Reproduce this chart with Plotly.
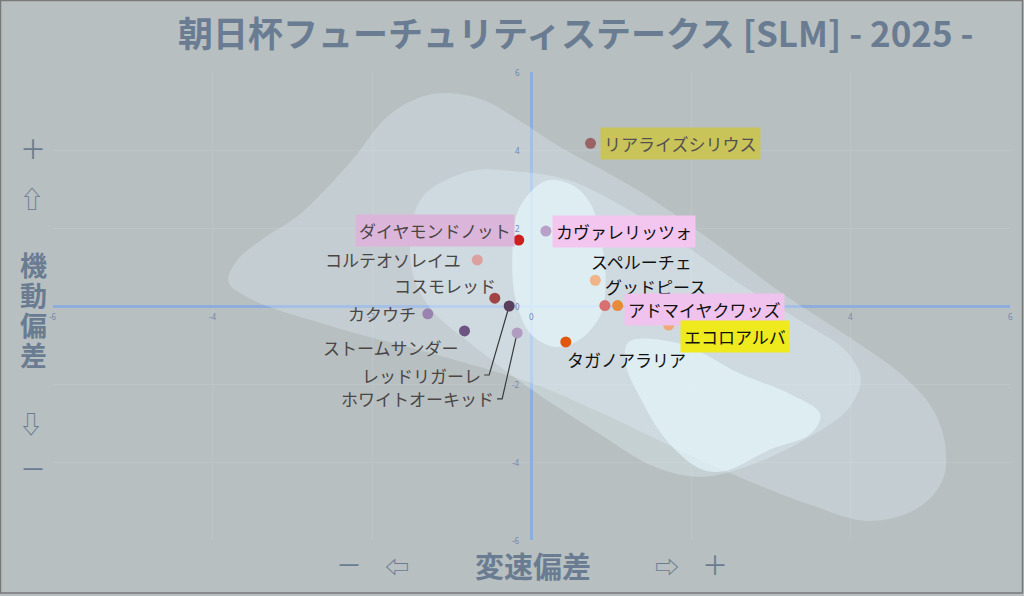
import plotly.graph_objects as go

# ---------------- data ----------------
horses = ["リアライズシリウス", "ダイヤモンドノット", "カヴァレリッツォ", "コルテオソレイユ",
          "グッドピース", "スペルーチェ", "コスモレッド", "アドマイヤクワッズ", "カクウチ",
          "エコロアルバ", "ストームサンダー", "タガノアラリア", "レッドリガーレ", "ホワイトオーキッド"]
speed_dev = [0.74, -0.16, 0.18, -0.68, 0.80, 0.92, -0.46, 1.08, -1.30, 1.72, -0.84, 0.43, -0.28, -0.18]
mobility_dev = [4.17, 1.69, 1.92, 1.18, 0.66, 0.01, 0.20, 0.01, -0.20, -0.49, -0.64, -0.92, 0.00, -0.69]
point_colors = ["#9a6464", "#cc2020", "#b8a0c8", "#dca0a0", "#f0b488", "#d87070", "#a04444",
                "#e88a3a", "#9a82b0", "#f0a878", "#6e5480", "#e05810", "#5a3e5e", "#b09cc0"]

tick_values = [-6, -4, -2, 0, 2, 4, 6]

# density contour outlines (data units)
outer_x = [-1.23, -0.64, -0.14, 0.36, 0.87, 1.45, 2.28, 3.12, 3.96, 4.63, 5.03, 5.19, 5.15, 4.82,
           4.21, 3.54, 2.28, 0.87, 0.03, -1.23, -2.48, -3.52, -3.80, -3.70, -3.37, -2.90, -2.27, -1.77]
outer_y = [5.44, 5.31, 4.74, 4.08, 3.51, 2.82, 1.64, 0.36, -0.77, -1.74, -2.64, -3.59, -4.49, -5.21,
           -5.51, -5.13, -4.10, -2.74, -2.00, -1.23, -0.54, 0.18, 0.62, 1.15, 1.72, 2.36, 3.69, 4.92]
middle_x = [-0.76, -0.14, 0.49, 1.24, 1.99, 2.62, 3.37, 3.94, 4.13, 3.97, 3.44, 2.68, 2.12, 1.55,
            0.80, -0.01, -0.76, -1.24, -1.47, -1.52, -1.37]
middle_y = [3.46, 3.44, 3.21, 2.44, 1.46, 0.56, -0.38, -1.15, -1.87, -2.64, -3.41, -4.13, -4.38, -4.13,
            -3.21, -2.13, -0.97, -0.13, 0.69, 1.72, 2.79]
inner_a_x = [0.18, 0.51, 0.74, 0.87, 0.93, 0.87, 0.61, 0.30, -0.01, -0.20, -0.24, -0.16]
inner_a_y = [3.21, 3.10, 2.62, 1.72, 0.69, -0.21, -0.85, -1.05, -0.72, 0.18, 1.33, 2.49]
inner_b_x = [1.22, 1.87, 2.62, 3.25, 3.62, 3.50, 3.00, 2.43, 2.12, 1.68, 1.37, 1.18]
inner_b_y = [-0.92, -0.97, -1.74, -2.26, -2.77, -3.28, -3.67, -4.23, -4.18, -3.41, -2.38, -1.49]

# ---------------- label styling (pixel offsets / colours) ----------------
label_style = {
    "リアライズシリウス": dict(dx=90, dy=0, bg="#c8c45a", fc="#555050"),
    "ダイヤモンドノット": dict(dx=-84, dy=10, bg="#dcb6da", fc="#4a4646"),
    "カヴァレリッツォ": dict(dx=78, dy=0, bg="#f3c6f0", fc="#111111"),
    "コルテオソレイユ": dict(dx=-84, dy=0, bg=None, fc="#4a4646"),
    "グッドピース": dict(dx=60, dy=-6, bg=None, fc="#111111"),
    "スペルーチェ": dict(dx=37, dy=44, bg=None, fc="#111111"),
    "コスモレッド": dict(dx=-50, dy=13, bg=None, fc="#4a4646"),
    "アドマイヤクワッズ": dict(dx=87, dy=-4, bg="#f0c2ee", fc="#111111"),
    "カクウチ": dict(dx=-46, dy=0, bg=None, fc="#4a4646"),
    "エコロアルバ": dict(dx=66, dy=-11, bg="#eeea1e", fc="#111111"),
    "ストームサンダー": dict(dx=-74, dy=-17, bg=None, fc="#4a4646"),
    "タガノアラリア": dict(dx=61, dy=-18, bg=None, fc="#111111"),
}
# leader-line labels: elbow offset and text right-end offset in pixels (x right, y down)
leader_style = {
    "レッドリガーレ": dict(ex=-20, ey=69, tx=-25, fc="#4a4646"),
    "ホワイトオーキッド": dict(ex=-15, ey=66, tx=-20, fc="#4a4646"),
}

BG = "#b8bfc1"
AXC = "#6a7c92"
FONT = "Noto Sans CJK JP"
L, R, T, B = 53, 1010, 72, 540
XPX = (R - L) / 12.0   # pixels per x unit
YPX = (B - T) / 12.0   # pixels per y unit

fig = go.Figure()

def blob(xs, ys, color):
    fig.add_trace(go.Scatter(x=xs + xs[:1], y=ys + ys[:1], mode="lines", fill="toself",
                             fillcolor=color, line=dict(width=0, shape="spline", smoothing=1.0),
                             hoverinfo="skip", showlegend=False))

blob(outer_x, outer_y, "rgba(230,248,255,0.26)")
blob(middle_x, middle_y, "rgba(230,248,255,0.30)")
blob(inner_a_x, inner_a_y, "rgba(232,250,255,0.60)")
blob(inner_b_x, inner_b_y, "rgba(232,250,255,0.60)")

ann = []
# tick labels at the crossing axes (drawn first, beneath the horse labels)
for t in tick_values:
    ann.append(dict(x=-0.12, y=t, xref="x", yref="y", text=str(t), showarrow=False,
                    xanchor="right", yanchor="middle",
                    font=dict(family="Noto Sans", size=8, color="#7088b0")))
    ann.append(dict(x=t, y=-0.28, xref="x", yref="y", text=str(t), showarrow=False,
                    xanchor="center", yanchor="middle",
                    font=dict(family="Noto Sans", size=8, color="#7088b0")))

for name, xv, yv in zip(horses, speed_dev, mobility_dev):
    if name in leader_style:
        s = leader_style[name]
        ex, ey = xv + s["ex"] / XPX, yv - s["ey"] / YPX
        tx = xv + s["tx"] / XPX
        fig.add_trace(go.Scatter(x=[xv, ex, tx], y=[yv, ey, ey], mode="lines",
                                 line=dict(color="#3a3a3a", width=1.2),
                                 hoverinfo="skip", showlegend=False))
        ann.append(dict(x=tx, y=ey, xref="x", yref="y", text=name, showarrow=False,
                        xanchor="right", yanchor="middle", xshift=-1,
                        font=dict(family=FONT, size=17, color=s["fc"])))
    elif name in label_style:
        s = label_style[name]
        a = dict(x=xv, y=yv, xref="x", yref="y", text=name, showarrow=False,
                 xshift=s["dx"], yshift=s["dy"], font=dict(family=FONT, size=17, color=s["fc"]),
                 borderpad=3)
        if s["bg"]:
            a["bgcolor"] = s["bg"]
        ann.append(a)

fig.add_trace(go.Scatter(x=speed_dev, y=mobility_dev, mode="markers",
                         marker=dict(size=11, color=point_colors, line=dict(width=0)),
                         text=horses, hoverinfo="text", showlegend=False))

def pcap(text, px, py, size, bold=False):
    ann.append(dict(x=(px - L) / (R - L), y=(B - py) / (B - T), xref="paper", yref="paper",
                    xanchor="center", yanchor="middle",
                    text=("<b>%s</b>" % text) if bold else text, showarrow=False,
                    font=dict(family=FONT, size=size, color=AXC)))

pcap("＋", 33, 147, 26)
pcap("⇧", 32, 197, 24)
for ch, py in zip("機動偏差", [264, 294, 324, 354]):
    pcap(ch, 33, py, 27, bold=True)
pcap("⇩", 31, 422, 24)
pcap("－", 33, 467, 26)

pcap("－", 349, 563, 26)
pcap("⇦", 397, 565, 24)
pcap("変速偏差", 533, 565, 29, bold=True)
pcap("⇨", 667, 565, 24)
pcap("＋", 715, 563, 26)

fig.update_layout(
    width=1024, height=596,
    margin=dict(l=L, r=1024 - R, t=T, b=596 - B),
    paper_bgcolor=BG, plot_bgcolor=BG,
    title=dict(text="<b>朝日杯フューチュリティステークス [SLM] - 2025 -</b>",
               x=178 / 1024, xanchor="left", xref="container",
               y=1 - 35 / 596, yanchor="middle", yref="container",
               font=dict(family=FONT, size=35, color=AXC)),
    annotations=ann,
    shapes=[dict(type="rect", xref="paper", yref="paper",
                 x0=(0.5 - L) / (R - L), x1=(1022.5 - L) / (R - L),
                 y0=(B - 593) / (B - T), y1=(B - 0.5) / (B - T),
                 line=dict(color="#7a7a7a", width=1.5), fillcolor="rgba(0,0,0,0)", layer="above")],
)
fig.update_xaxes(range=[-6, 6], dtick=2, tick0=0, showgrid=True, gridcolor="#bec5c8", gridwidth=1,
                 zeroline=True, zerolinecolor="#8eacdc", zerolinewidth=3, showticklabels=False,
                 showline=False, fixedrange=True)
fig.update_yaxes(range=[-6, 6], dtick=2, tick0=0, showgrid=True, gridcolor="#bec5c8", gridwidth=1,
                 zeroline=True, zerolinecolor="#8eacdc", zerolinewidth=3, showticklabels=False,
                 showline=False, fixedrange=True)

fig.write_html("out.html", config={"displayModeBar": False},
               post_script="document.body.style.margin='0';")
